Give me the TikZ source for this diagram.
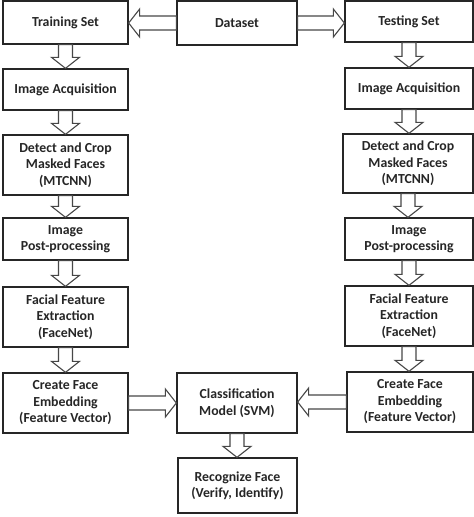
\documentclass[tikz,border=0pt]{standalone}
\usepackage{fontspec}
\setmainfont{Carlito}
\usetikzlibrary{calc}
\newlength{\du}
\setlength{\du}{1pt}
\definecolor{dialinecolor}{rgb}{0.150000, 0.150000, 0.150000}
\tikzset{
  procbox/.style={draw=dialinecolor, line width=1.3\du, fill=white, align=center,
    inner sep=0pt, text=dialinecolor, font=\fontsize{13.8}{16.5}\selectfont\bfseries},
  blockarr/.style={draw=dialinecolor!85, line width=1.1\du, fill=white, line join=miter}
}
% hollow block arrow from #1 (tail) to #2 (tip)
\newcommand{\blockarrow}[2]{%
  \draw[blockarr] ($(#1)!7\du!90:(#2)$)
    -- ($(#2)!11\du!(#1)!7\du!-90:(#1)$)
    -- ($(#2)!11\du!(#1)!14\du!-90:(#1)$)
    -- (#2)
    -- ($(#2)!11\du!(#1)!14\du!90:(#1)$)
    -- ($(#2)!11\du!(#1)!7\du!90:(#1)$)
    -- ($(#1)!7\du!-90:(#2)$) -- cycle;}

\begin{document}
\begin{tikzpicture}
\useasboundingbox (0\du,0\du) rectangle (474\du,-517\du);
% top row
\node[procbox, minimum width=125\du, minimum height=43\du] (train) at (65.5\du,-22.5\du) {Training Set};
\node[procbox, minimum width=120\du, minimum height=44\du] (data) at (237\du,-23\du) {Dataset};
\node[procbox, minimum width=128\du, minimum height=41\du] (test) at (409\du,-21.5\du) {Testing Set};
% training column
\node[procbox, minimum width=125\du, minimum height=41\du] (acqL) at (65.5\du,-89.5\du) {Image Acquisition};
\node[procbox, minimum width=125\du, minimum height=60\du] (detL) at (65.5\du,-165\du) {Detect and Crop\\Masked Faces\\(MTCNN)};
\node[procbox, minimum width=125\du, minimum height=42\du] (postL) at (65.5\du,-239\du) {Image\\Post-processing};
\node[procbox, minimum width=125\du, minimum height=60\du] (featL) at (65.5\du,-317\du) {Facial Feature\\Extraction\\(FaceNet)};
\node[procbox, minimum width=125\du, minimum height=60\du] (embL) at (65.5\du,-403\du) {Create Face\\Embedding\\(Feature Vector)};
% testing column
\node[procbox, minimum width=128\du, minimum height=41\du] (acqR) at (409\du,-88.5\du) {Image Acquisition};
\node[procbox, minimum width=130\du, minimum height=59\du] (detR) at (408\du,-163.5\du) {Detect and Crop\\Masked Faces\\(MTCNN)};
\node[procbox, minimum width=128\du, minimum height=42\du] (postR) at (409\du,-239\du) {Image\\Post-processing};
\node[procbox, minimum width=128\du, minimum height=60\du] (featR) at (409\du,-316\du) {Facial Feature\\Extraction\\(FaceNet)};
\node[procbox, minimum width=126\du, minimum height=60\du] (embR) at (410\du,-402\du) {Create Face\\Embedding\\(Feature Vector)};
% middle
\node[procbox, minimum width=120\du, minimum height=60\du] (cls) at (237\du,-403\du) {Classification\\Model (SVM)};
\node[procbox, minimum width=119\du, minimum height=55\du] (rec) at (237.5\du,-485.5\du) {Recognize Face\\(Verify, Identify)};
% block arrows
\blockarrow{data.west}{train.east |- data.west}
\blockarrow{data.east}{test.west |- data.east}
\blockarrow{train.south}{acqL.north}
\blockarrow{acqL.south}{detL.north}
\blockarrow{detL.south}{postL.north}
\blockarrow{postL.south}{featL.north}
\blockarrow{featL.south}{embL.north}
\blockarrow{test.south}{acqR.north -| test.south}
\blockarrow{acqR.south}{detR.north -| acqR.south}
\blockarrow{detR.south}{postR.north -| detR.south}
\blockarrow{postR.south}{featR.north -| postR.south}
\blockarrow{featR.south}{embR.north -| featR.south}
\blockarrow{embL.east}{cls.west}
\blockarrow{embR.west}{cls.east |- embR.west}
\blockarrow{cls.south}{rec.north -| cls.south}
\end{tikzpicture}
\end{document}
